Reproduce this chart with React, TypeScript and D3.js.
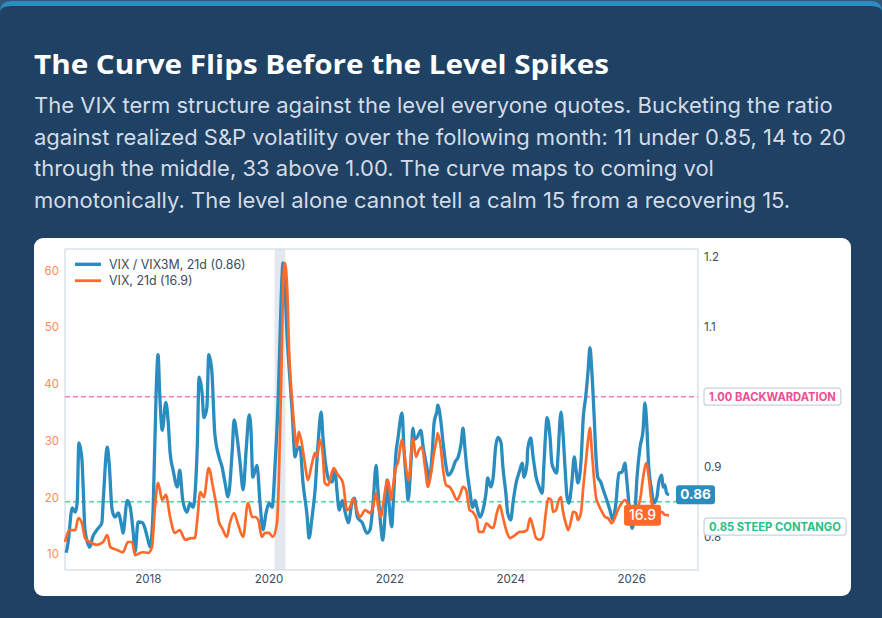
import React, { useLayoutEffect, useRef, useState } from "react";
import * as d3 from "d3";

const TITLE = "The Curve Flips Before the Level Spikes";
const SUBTITLE_LINES = [
  "The VIX term structure against the level everyone quotes. Bucketing the ratio",
  "against realized S&P volatility over the following month: 11 under 0.85, 14 to 20",
  "through the middle, 33 above 1.00. The curve maps to coming vol",
  "monotonically. The level alone cannot tell a calm 15 from a recovering 15.",
];

// [decimal year, VIX / VIX3M 21d]
const ratioData: [number, number][] = [
  [2016.64, 0.777], [2016.67, 0.791], [2016.74, 0.841], [2016.79, 0.835], [2016.82, 0.848],
  [2016.85, 0.934], [2016.9, 0.91], [2016.92, 0.871], [2016.95, 0.81], [2017.03, 0.785],
  [2017.08, 0.8], [2017.15, 0.81], [2017.23, 0.82], [2017.25, 0.848], [2017.32, 0.928],
  [2017.35, 0.905], [2017.4, 0.838], [2017.45, 0.828], [2017.5, 0.834], [2017.56, 0.814],
  [2017.58, 0.805], [2017.65, 0.852], [2017.7, 0.842], [2017.75, 0.805], [2017.78, 0.778],
  [2017.83, 0.821], [2017.9, 0.82], [2017.95, 0.81], [2017.98, 0.8], [2018.03, 0.785],
  [2018.08, 0.842], [2018.13, 1.01], [2018.16, 1.06], [2018.19, 1.0], [2018.23, 0.952],
  [2018.29, 0.992], [2018.33, 0.962], [2018.36, 0.92], [2018.41, 0.895], [2018.48, 0.871],
  [2018.52, 0.895], [2018.57, 0.852], [2018.64, 0.835], [2018.69, 0.848], [2018.74, 0.842],
  [2018.81, 0.928], [2018.84, 1.028], [2018.89, 1.005], [2018.92, 0.97], [2018.97, 0.985],
  [2019.0, 1.06], [2019.05, 1.038], [2019.1, 0.948], [2019.17, 0.914], [2019.22, 0.9],
  [2019.27, 0.877], [2019.32, 0.857], [2019.39, 0.924], [2019.42, 0.967], [2019.47, 0.942],
  [2019.52, 0.905], [2019.57, 0.867], [2019.62, 0.924], [2019.67, 0.974], [2019.7, 0.952],
  [2019.73, 0.885], [2019.77, 0.895], [2019.8, 0.902], [2019.85, 0.848], [2019.9, 0.81],
  [2019.95, 0.834], [2020.0, 0.848], [2020.05, 0.842], [2020.1, 0.905], [2020.15, 0.995],
  [2020.2, 1.142], [2020.23, 1.191], [2020.26, 1.162], [2020.3, 1.081], [2020.33, 1.042],
  [2020.38, 0.981], [2020.43, 0.914], [2020.46, 0.924], [2020.51, 0.928], [2020.56, 0.877],
  [2020.63, 0.828], [2020.66, 0.798], [2020.71, 0.828], [2020.76, 0.867], [2020.81, 0.934],
  [2020.86, 0.978], [2020.89, 0.942], [2020.94, 0.9], [2020.99, 0.881], [2021.04, 0.878],
  [2021.09, 0.895], [2021.12, 0.867], [2021.16, 0.838], [2021.21, 0.852], [2021.26, 0.834],
  [2021.31, 0.82], [2021.37, 0.848], [2021.41, 0.855], [2021.46, 0.828], [2021.54, 0.82],
  [2021.62, 0.805], [2021.67, 0.81], [2021.72, 0.848], [2021.77, 0.902], [2021.8, 0.867],
  [2021.85, 0.814], [2021.88, 0.795], [2021.92, 0.834], [2021.95, 0.881], [2021.98, 0.852],
  [2022.03, 0.814], [2022.05, 0.842], [2022.1, 0.92], [2022.13, 0.939], [2022.2, 0.977],
  [2022.23, 0.928], [2022.28, 0.871], [2022.3, 0.852], [2022.35, 0.91], [2022.38, 0.955],
  [2022.41, 0.939], [2022.45, 0.942], [2022.51, 0.952], [2022.55, 0.928], [2022.61, 0.9],
  [2022.65, 0.881], [2022.7, 0.92], [2022.73, 0.962], [2022.78, 0.981], [2022.79, 0.988],
  [2022.84, 0.967], [2022.88, 0.934], [2022.93, 0.9], [2022.96, 0.888], [2023.03, 0.895],
  [2023.08, 0.907], [2023.13, 0.914], [2023.18, 0.934], [2023.21, 0.955], [2023.24, 0.928],
  [2023.27, 0.9], [2023.32, 0.867], [2023.37, 0.842], [2023.41, 0.852], [2023.44, 0.842],
  [2023.49, 0.828], [2023.54, 0.838], [2023.59, 0.862], [2023.62, 0.884], [2023.67, 0.871],
  [2023.71, 0.885], [2023.75, 0.928], [2023.79, 0.942], [2023.84, 0.934], [2023.87, 0.9],
  [2023.92, 0.862], [2023.95, 0.834], [2024.0, 0.824], [2024.04, 0.85], [2024.09, 0.877],
  [2024.14, 0.892], [2024.19, 0.905], [2024.22, 0.885], [2024.27, 0.905], [2024.28, 0.924],
  [2024.33, 0.941], [2024.37, 0.914], [2024.42, 0.885], [2024.47, 0.871], [2024.52, 0.862],
  [2024.55, 0.905], [2024.58, 0.952], [2024.6, 0.97], [2024.65, 0.942], [2024.68, 0.905],
  [2024.72, 0.895], [2024.76, 0.891], [2024.78, 0.914], [2024.83, 0.978], [2024.86, 0.952],
  [2024.9, 0.895], [2024.93, 0.857], [2024.96, 0.848], [2025.01, 0.877], [2025.05, 0.914],
  [2025.08, 0.895], [2025.11, 0.877], [2025.16, 0.905], [2025.2, 0.971], [2025.24, 1.0],
  [2025.28, 1.038], [2025.31, 1.07], [2025.34, 1.038], [2025.38, 0.971], [2025.41, 0.914],
  [2025.44, 0.885], [2025.49, 0.878], [2025.53, 0.867], [2025.59, 0.852], [2025.64, 0.838],
  [2025.69, 0.824], [2025.74, 0.848], [2025.79, 0.891], [2025.84, 0.892], [2025.89, 0.905],
  [2025.92, 0.881], [2025.97, 0.834], [2026.01, 0.812], [2026.05, 0.828], [2026.09, 0.885],
  [2026.14, 0.928], [2026.19, 0.952], [2026.22, 0.991], [2026.25, 0.962], [2026.28, 0.905],
  [2026.33, 0.867], [2026.37, 0.848], [2026.42, 0.857], [2026.45, 0.877], [2026.5, 0.888],
  [2026.52, 0.871], [2026.55, 0.874], [2026.58, 0.862], [2026.62, 0.86],
];

// [decimal year, VIX 21d]
const vixData: [number, number][] = [
  [2016.62, 12.2], [2016.7, 14.3], [2016.79, 14.3], [2016.84, 16.4], [2016.9, 15.5],
  [2016.95, 12.9], [2017.03, 12.2], [2017.15, 11.7], [2017.25, 12.2], [2017.32, 13.4],
  [2017.37, 11.3], [2017.48, 10.8], [2017.58, 10.4], [2017.66, 12.2], [2017.73, 12.2],
  [2017.78, 9.9], [2017.9, 10.4], [2018.0, 10.3], [2018.06, 11.3], [2018.11, 18.4],
  [2018.16, 22.6], [2018.23, 19.6], [2018.29, 20.5], [2018.36, 16.6], [2018.44, 13.8],
  [2018.52, 14.3], [2018.61, 12.6], [2018.72, 12.9], [2018.77, 12.9], [2018.81, 16.1],
  [2018.86, 21.0], [2018.92, 20.1], [2019.0, 25.2], [2019.07, 21.9], [2019.14, 17.8],
  [2019.17, 15.7], [2019.22, 14.7], [2019.3, 13.1], [2019.35, 15.5], [2019.42, 17.3],
  [2019.48, 15.5], [2019.57, 13.1], [2019.65, 19.1], [2019.72, 16.6], [2019.77, 16.6],
  [2019.82, 16.1], [2019.88, 13.1], [2019.93, 13.8], [2020.0, 13.8], [2020.06, 13.1],
  [2020.13, 15.5], [2020.16, 22.6], [2020.2, 40.2], [2020.23, 56.6], [2020.26, 61.3],
  [2020.3, 56.6], [2020.33, 46.0], [2020.38, 37.2], [2020.41, 33.2], [2020.46, 28.9],
  [2020.49, 31.6], [2020.54, 29.6], [2020.59, 26.1], [2020.64, 23.1], [2020.71, 26.1],
  [2020.76, 27.9], [2020.79, 27.2], [2020.84, 30.2], [2020.89, 27.2], [2020.92, 22.6],
  [2020.97, 22.2], [2021.04, 24.5], [2021.07, 25.2], [2021.12, 24.3], [2021.17, 23.6],
  [2021.22, 22.6], [2021.29, 17.8], [2021.34, 18.4], [2021.39, 19.9], [2021.44, 18.2],
  [2021.5, 16.6], [2021.59, 17.8], [2021.67, 17.3], [2021.72, 18.4], [2021.77, 20.8],
  [2021.8, 18.7], [2021.85, 16.6], [2021.88, 18.4], [2021.93, 21.9], [2021.97, 23.1],
  [2022.02, 19.6], [2022.05, 21.9], [2022.1, 25.4], [2022.13, 26.1], [2022.2, 30.2],
  [2022.23, 28.4], [2022.28, 24.3], [2022.31, 23.1], [2022.36, 28.9], [2022.38, 30.5],
  [2022.43, 27.2], [2022.48, 28.4], [2022.53, 28.9], [2022.58, 25.4], [2022.63, 21.9],
  [2022.68, 24.3], [2022.73, 27.9], [2022.78, 30.7], [2022.79, 31.4], [2022.84, 28.9],
  [2022.88, 24.9], [2022.93, 22.2], [2022.99, 21.9], [2023.04, 21.0], [2023.11, 19.6],
  [2023.16, 20.5], [2023.21, 21.9], [2023.26, 21.4], [2023.32, 17.8], [2023.37, 17.5],
  [2023.44, 16.1], [2023.47, 14.0], [2023.54, 14.0], [2023.6, 15.5], [2023.67, 14.8],
  [2023.71, 14.7], [2023.77, 17.3], [2023.82, 18.7], [2023.87, 16.6], [2023.94, 13.8],
  [2023.99, 12.9], [2024.07, 13.4], [2024.15, 14.0], [2024.2, 14.0], [2024.27, 14.3],
  [2024.32, 16.4], [2024.37, 14.8], [2024.42, 12.9], [2024.48, 12.6], [2024.53, 13.1],
  [2024.58, 17.3], [2024.62, 19.9], [2024.67, 19.6], [2024.7, 17.5], [2024.75, 17.8],
  [2024.78, 19.1], [2024.83, 20.1], [2024.86, 17.8], [2024.91, 15.5], [2024.95, 14.3],
  [2025.0, 16.1], [2025.03, 17.5], [2025.08, 17.3], [2025.11, 16.1], [2025.16, 17.3],
  [2025.2, 21.9], [2025.24, 26.1], [2025.28, 30.2], [2025.31, 32.3], [2025.34, 28.4],
  [2025.38, 23.1], [2025.41, 20.1], [2025.44, 19.1], [2025.51, 17.5], [2025.56, 16.6],
  [2025.61, 16.4], [2025.67, 15.5], [2025.72, 16.4], [2025.77, 17.8], [2025.84, 19.1],
  [2025.89, 19.6], [2025.97, 18.2], [2026.05, 17.5], [2026.14, 19.6], [2026.19, 23.5],
  [2026.24, 26.1], [2026.29, 23.1], [2026.32, 20.1], [2026.36, 17.8], [2026.42, 17.3],
  [2026.5, 17.5], [2026.55, 17.0], [2026.62, 16.9],
];

const xDomainYears: [number, number] = [2016.62, 2027.1];
const vixDomain: [number, number] = [7.27, 63.8];
const ratioDomain: [number, number] = [0.7524, 1.211];
const vixTicks = [10, 20, 30, 40, 50, 60];
// 1.0 sits under the backwardation tag in the reference, so it is not labelled
const ratioTicks = [0.8, 0.9, 1.1, 1.2];
const stressBand: [number, number] = [2020.09, 2020.27];
const refLines = [
  { value: 1.0, label: "1.00 BACKWARDATION", color: "#ef4b93", dash: "5,3", line: "#f57ab8", dy: 0 },
  { value: 0.85, label: "0.85 STEEP CONTANGO", color: "#27be87", dash: "5,3", line: "#4fd3a2", dy: 25 },
];
const legendItems = [
  { label: "VIX / VIX3M, 21d (0.86)", color: "#2b8cbf", width: 3.4 },
  { label: "VIX, 21d (16.9)", color: "#ff6a2b", width: 2.8 },
];

const BLUE = "#2b8cbf";
const ORANGE = "#ff6a2b";
const NAVY = "#1f4164";
const FONT = "Inter, 'Noto Sans', sans-serif";

function yearToDate(t: number): Date {
  const y = Math.floor(t);
  const start = Date.UTC(y, 0, 1);
  const end = Date.UTC(y + 1, 0, 1);
  return new Date(start + (t - y) * (end - start));
}

function Tag({ x, y, text, color }: { x: number; y: number; text: string; color: string }) {
  const ref = useRef<SVGTextElement>(null);
  const [w, setW] = useState(130);
  useLayoutEffect(() => {
    if (ref.current) setW(ref.current.getBBox().width);
  }, [text]);
  const h = 17;
  return (
    <g>
      <rect x={x} y={y - h / 2} width={w + 10} height={h} rx={3} fill="#ffffff" stroke="#c9d2de" strokeWidth={1.2} />
      <text ref={ref} x={x + 5} y={y + 4} fontSize={11.2} fontWeight={700} fill={color} fontFamily={FONT}>
        {text}
      </text>
    </g>
  );
}

export default function App() {
  const W = 882;
  const H = 618;
  const L = 65, R = 698, T = 249, B = 570;

  const x = d3.scaleUtc().domain(xDomainYears.map(yearToDate)).range([L, R]);
  const yV = d3.scaleLinear().domain(vixDomain).range([B, T]);
  const yR = d3.scaleLinear().domain(ratioDomain).range([B, T]);

  const ratioLine = d3
    .line<[number, number]>()
    .x((d) => x(yearToDate(d[0])))
    .y((d) => yR(d[1]))
    .curve(d3.curveMonotoneX);
  const vixLine = d3
    .line<[number, number]>()
    .x((d) => x(yearToDate(d[0])))
    .y((d) => yV(d[1]))
    .curve(d3.curveMonotoneX);

  const xTicks = d3.utcYear.every(2)!.range(yearToDate(xDomainYears[0]), yearToDate(xDomainYears[1]));

  const lastR = ratioData[ratioData.length - 1];
  const lastV = vixData[vixData.length - 1];
  const lastRx = x(yearToDate(lastR[0]));
  const lastVx = x(yearToDate(lastV[0]));

  return (
    <svg
      width={W}
      height={H}
      viewBox={`0 0 ${W} ${H}`}
      style={{ position: "absolute", left: 0, top: 0, display: "block" }}
      fontFamily={FONT}
    >
      <rect x={0} y={0} width={W} height={H} fill="#34557a" />
      <path d={`M0,${H} V12 Q0,1 12,1 H${W - 12} Q${W},1 ${W},12 V${H} Z`} fill="#2b8cbf" />
      <path d={`M0,${H} V12 Q0,6 12,6 H${W - 12} Q${W},6 ${W},12 V${H} Z`} fill={NAVY} />
      <rect x={0} y={14} width={W} height={H - 14} fill={NAVY} />

      <text
        x={34}
        y={74}
        fill="#ffffff"
        fontSize={27}
        fontWeight={700}
        fontFamily="'Open Sans', Inter, sans-serif"
        textLength={575}
        lengthAdjust="spacingAndGlyphs"
      >
        {TITLE}
      </text>
      {SUBTITLE_LINES.map((line, i) => (
        <text key={i} x={34} y={113 + i * 31.7} fill="#d3dbe6" fontSize={22}>
          {line}
        </text>
      ))}

      <rect x={34} y={238} width={817} height={358} rx={9} fill="#ffffff" />

      {/* stress band */}
      <rect
        x={x(yearToDate(stressBand[0]))}
        y={T}
        width={x(yearToDate(stressBand[1])) - x(yearToDate(stressBand[0]))}
        height={B - T}
        fill="#e3e7ee"
      />

      {/* frame */}
      <rect x={L} y={T} width={R - L} height={B - T} fill="none" stroke="#d3dbe5" strokeWidth={1.2} />

      {/* reference lines */}
      {refLines.map((r) => (
        <line
          key={r.label}
          x1={L}
          x2={R}
          y1={yR(r.value)}
          y2={yR(r.value)}
          stroke={r.line}
          strokeWidth={1.5}
          strokeDasharray={r.dash}
        />
      ))}

      {/* series */}
      <path d={ratioLine(ratioData) || ""} fill="none" stroke={BLUE} strokeWidth={3.3} strokeLinejoin="round" />
      <path d={vixLine(vixData) || ""} fill="none" stroke={ORANGE} strokeWidth={2.7} strokeLinejoin="round" />

      {/* left axis */}
      {vixTicks.map((t) => (
        <text key={t} x={59} y={yV(t) + 4} textAnchor="end" fontSize={11.5} fill="#ff8a55">
          {t}
        </text>
      ))}
      {/* right axis */}
      {ratioTicks.map((t) => (
        <text key={t} x={704} y={yR(t) + 4} fontSize={11.5} fill="#3b4b61">
          {t.toFixed(1)}
        </text>
      ))}
      {/* x axis */}
      {xTicks.map((d) => (
        <text key={d.toISOString()} x={x(d)} y={583} textAnchor="middle" fontSize={11.5} fill="#3b4b61">
          {d.getUTCFullYear()}
        </text>
      ))}

      {/* legend */}
      {legendItems.map((it, i) => (
        <g key={it.label}>
          <line x1={75} x2={101} y1={264.3 + i * 16.4} y2={264.3 + i * 16.4} stroke={it.color} strokeWidth={it.width} />
          <text x={109} y={268.6 + i * 16.4} fontSize={12.4} fill="#3b4b61">
            {it.label}
          </text>
        </g>
      ))}

      {/* reference labels */}
      {refLines.map((r) => (
        <Tag key={r.label} x={704} y={yR(r.value) + r.dy} text={r.label} color={r.color} />
      ))}

      {/* end labels */}
      <g>
        <rect x={lastRx + 7} y={yR(lastR[1]) - 9.5} width={39} height={19} rx={3} fill={BLUE} />
        <text x={lastRx + 7 + 19.5} y={yR(lastR[1]) + 4.8} textAnchor="middle" fontSize={13.5} fontWeight={700} fill="#ffffff">
          {lastR[1].toFixed(2)}
        </text>
      </g>
      <g>
        <rect x={lastVx - 8 - 37} y={yV(lastV[1]) - 10.5} width={37} height={21} rx={3} fill={ORANGE} />
        <text x={lastVx - 8 - 18.5} y={yV(lastV[1]) + 5} textAnchor="middle" fontSize={14} fontWeight={500} fill="#ffffff">
          {lastV[1].toFixed(1)}
        </text>
      </g>
    </svg>
  );
}
